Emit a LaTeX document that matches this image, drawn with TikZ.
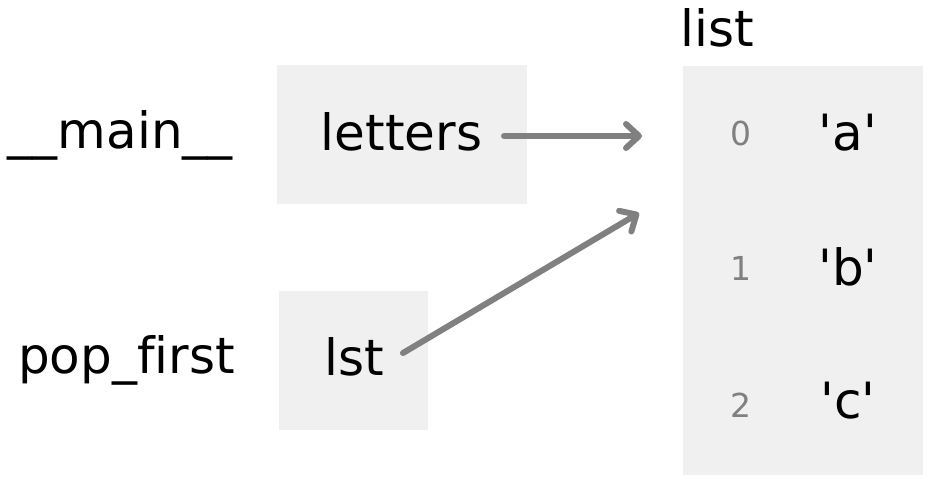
\documentclass[tikz,border=0pt]{standalone}
\usepackage{fontspec}
\setmainfont{DejaVu Sans}[Ligatures={NoCommon}]
\usetikzlibrary{arrows.meta}
\definecolor{boxgray}{RGB}{240,240,240}
\definecolor{arrowgray}{RGB}{128,128,128}
\begin{document}
\begin{tikzpicture}[x=1pt,y=-1pt,
  box/.style={fill=boxgray, draw=none, inner sep=0pt, anchor=north west},
  txt/.style={inner sep=0pt, font=\fontsize{50}{60}\selectfont, text=black},
  idx/.style={inner sep=0pt, font=\fontsize{33}{40}\selectfont, text=arrowgray, anchor=base},
  arr/.style={draw=arrowgray, line width=6pt, line cap=round,
    -{Straight Barb[length=13pt,width=24pt,line cap=round,line join=round]}}]
\useasboundingbox (0,0) rectangle (934,484);
% boxes
\node[box, minimum width=250pt, minimum height=139pt] (lettersbox) at (277,65) {};
\node[box, minimum width=149pt, minimum height=139pt] (lstbox) at (279,291) {};
\node[box, minimum width=240pt, minimum height=409pt] (listbox) at (683,66) {};
% frame labels
\node[txt, anchor=base east] (main) at (233,148) {\_\_main\_\_};
\node[txt, anchor=base east] (popfirst) at (235,373) {pop\_first};
% variables
\node[txt, anchor=base] (letters) at (401.5,150) {letters};
\node[txt, anchor=base] (lst) at (354,375) {lst};
% list
\node[txt, anchor=base west] (listlabel) at (680,47) {list};
\node[idx] (i0) at (741,146) {0};
\node[idx] (i1) at (741,280) {1};
\node[idx] (i2) at (741,417) {2};
\node[txt, anchor=base] (va) at (848,150) {\textquotesingle a\textquotesingle};
\node[txt, anchor=base] (vb) at (848,285) {\textquotesingle b\textquotesingle};
\node[txt, anchor=base] (vc) at (848,418) {\textquotesingle c\textquotesingle};
% arrows
\coordinate (s1) at (504,136);
\coordinate (e1) at (642,136);
\coordinate (s2) at (403,353);
\coordinate (e2) at (639,213);
\draw[arr] (s1) -- (e1);
\draw[arr] (s2) -- (e2);
\end{tikzpicture}
\end{document}
